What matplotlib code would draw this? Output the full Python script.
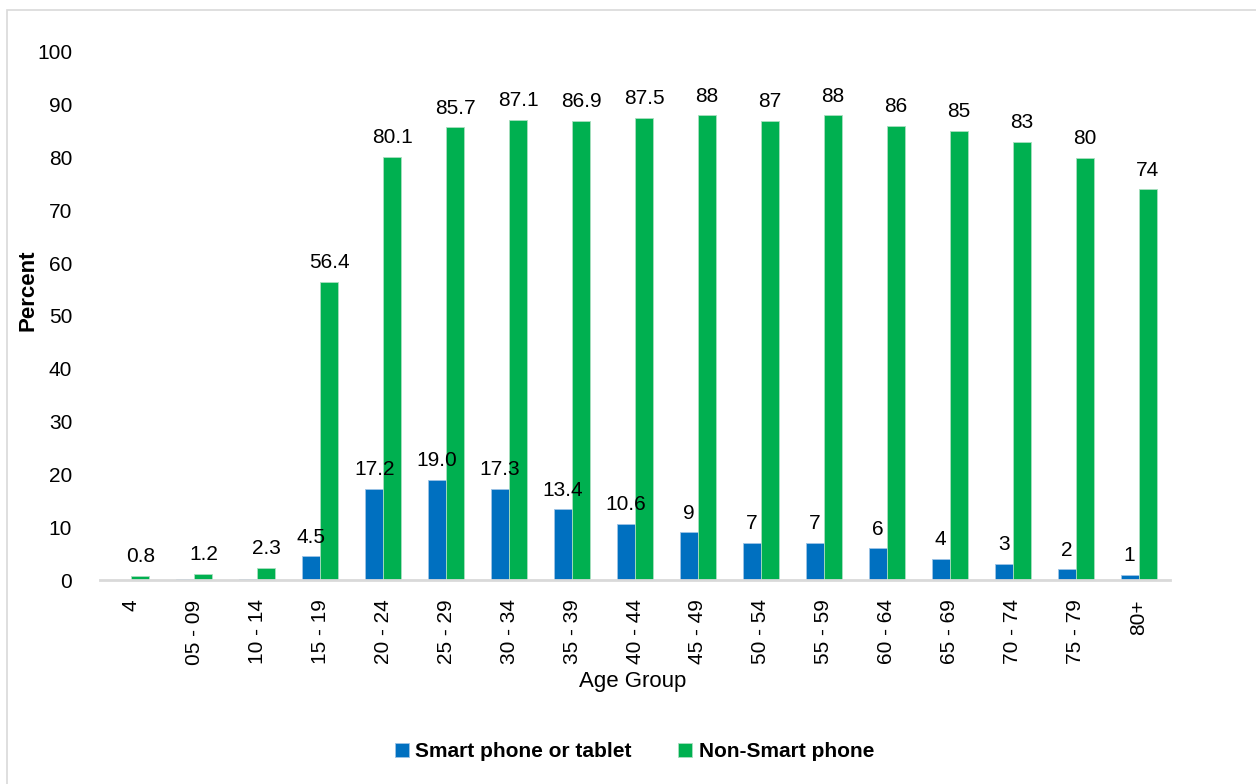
import numpy as np
import matplotlib
matplotlib.use("Agg")
import matplotlib.pyplot as plt
from matplotlib.patches import Rectangle

plt.rcParams["font.family"] = ["Liberation Sans", "DejaVu Sans"]

age_groups = ["4", "05 - 09", "10 - 14", "15 - 19", "20 - 24", "25 - 29", "30 - 34",
              "35 - 39", "40 - 44", "45 - 49", "50 - 54", "55 - 59", "60 - 64",
              "65 - 69", "70 - 74", "75 - 79", "80+"]
smart = [0.0, 0.1, 0.1, 4.5, 17.2, 19.0, 17.3, 13.4, 10.6, 9, 7, 7, 6, 4, 3, 2, 1]
smart_labels = ["", "", "", "4.5", "17.2", "19.0", "17.3", "13.4", "10.6",
                "9", "7", "7", "6", "4", "3", "2", "1"]
non_smart = [0.8, 1.2, 2.3, 56.4, 80.1, 85.7, 87.1, 86.9, 87.5, 88, 87, 88, 86, 85, 83, 80, 74]
non_smart_labels = ["0.8", "1.2", "2.3", "56.4", "80.1", "85.7", "87.1", "86.9", "87.5",
                    "88", "87", "88", "86", "85", "83", "80", "74"]

BLUE = "#0070c0"
GREEN = "#00b050"

fig = plt.figure(figsize=(12.56, 7.84), dpi=100)
ax = fig.add_axes([0.0796, 0.2602, 0.852, 0.6735])

x = np.arange(len(age_groups))
w = 0.286
b1 = ax.bar(x - w / 2, smart, w, color=BLUE, label="Smart phone or tablet",
            edgecolor="#9dc3e6", linewidth=0.6)
b2 = ax.bar(x + w / 2, non_smart, w, color=GREEN, label="Non-Smart phone",
            edgecolor="#a9dfbf", linewidth=0.6)

ax.bar_label(b1, labels=smart_labels, padding=7, fontsize=15)
ax.bar_label(b2, labels=non_smart_labels, padding=7, fontsize=15)

ax.set_xlim(-0.5, len(age_groups) - 0.5)
ax.set_ylim(0, 100)
ax.set_yticks(range(0, 101, 10))
ax.set_xticks(x)
ax.set_xticklabels(age_groups, rotation=90)
ax.tick_params(axis="both", length=0, labelsize=15)
ax.tick_params(axis="y", pad=20)
ax.tick_params(axis="x", pad=14)

for side in ("top", "right", "left"):
    ax.spines[side].set_visible(False)
ax.spines["bottom"].set_color("#d9d9d9")
ax.spines["bottom"].set_linewidth(2)

fig.text(0.504, 0.131, "Age Group", ha="center", va="center", fontsize=16)
fig.text(0.022, 0.63, "Percent", ha="center", va="center", rotation=90,
         fontsize=16, fontweight="bold")

fig.legend(handles=[b1, b2], loc="center", bbox_to_anchor=(0.505, 0.041), ncol=2,
           frameon=False, prop={"size": 15, "weight": "bold"},
           handlelength=0.7, handleheight=0.7, handletextpad=0.3, columnspacing=2.2)

# light frame around the chart area
fig.patches.append(Rectangle((7 / 1256, -0.1), 1.2, 1 - 10 / 784 + 0.1,
                             transform=fig.transFigure, fill=False,
                             edgecolor="#d9d9d9", linewidth=1.2))

fig.savefig("out.png", dpi=100)
